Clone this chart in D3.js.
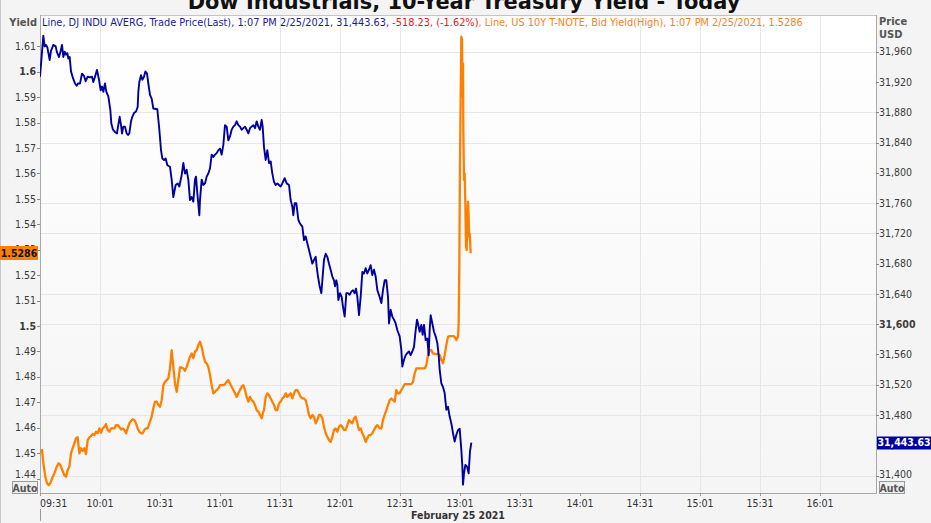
<!DOCTYPE html>
<html><head><meta charset="utf-8">
<script src="https://cdn.jsdelivr.net/npm/d3@7"></script>
<style>
html,body{margin:0;padding:0;background:#f4f4f4;overflow:hidden;}
svg{display:block;}
</style></head><body>
<script>
const titleText = "Dow Industrials, 10-Year Treasury Yield - Today";
const legendParts = ["Line, DJ INDU AVERG, Trade Price(Last), 1:07 PM 2/25/2021, 31,443.63, ", "-518.23, (-1.62%)", ", Line, US 10Y T-NOTE, Bid Yield(High), 1:07 PM 2/25/2021, 1.5286"];
const dateLabel = "February 25 2021";
const leftAxisTitle = "Yield";
const rightAxisTitle = ["Price", "USD"];
const lastYieldLabel = "1.5286";
const lastPriceLabel = "31,443.63";

const dowTimes = ["09:31:00","09:32:40","09:33:20","09:34:00","09:34:40","09:35:50","09:36:30","09:37:40","09:38:50","09:39:30","09:40:30","09:41:20","09:42:00","09:42:40","09:43:20","09:44:00","09:44:40","09:45:10","09:45:50","09:46:30","09:47:30","09:48:30","09:49:20","09:50:00","09:51:00","09:52:00","09:53:00","09:53:50","09:54:50","09:56:00","09:57:00","09:57:40","09:58:30","09:59:30","10:00:30","10:01:20","10:02:00","10:02:40","10:03:30","10:04:10","10:05:10","10:06:10","10:06:40","10:07:30","10:08:30","10:09:30","10:10:00","10:10:50","10:11:30","10:12:00","10:12:40","10:13:30","10:14:20","10:15:00","10:15:40","10:16:30","10:17:10","10:18:00","10:19:00","10:19:50","10:20:10","10:20:40","10:21:30","10:22:10","10:23:00","10:23:40","10:24:30","10:25:10","10:26:00","10:26:50","10:27:40","10:29:40","10:30:40","10:31:30","10:32:10","10:33:00","10:33:50","10:34:40","10:36:00","10:36:50","10:37:40","10:38:50","10:39:50","10:40:40","10:41:50","10:42:40","10:43:30","10:44:20","10:45:10","10:46:00","10:46:50","10:47:40","10:48:30","10:49:00","10:49:40","10:50:40","10:51:00","10:51:50","10:52:40","10:53:30","10:54:20","10:55:10","10:56:00","10:56:50","10:57:40","10:58:30","10:59:20","11:00:10","11:01:00","11:01:50","11:02:40","11:03:30","11:04:20","11:05:10","11:06:00","11:06:50","11:07:40","11:08:30","11:09:20","11:10:10","11:11:00","11:11:50","11:12:40","11:13:30","11:14:20","11:15:10","11:16:00","11:16:50","11:17:40","11:18:30","11:19:20","11:20:10","11:21:00","11:21:50","11:22:20","11:23:00","11:23:50","11:24:40","11:25:30","11:26:20","11:27:10","11:28:00","11:28:50","11:29:40","11:30:30","11:31:20","11:32:10","11:33:20","11:34:20","11:35:30","11:36:20","11:37:10","11:37:40","11:38:20","11:39:10","11:40:10","11:41:00","11:42:10","11:43:00","11:43:50","11:44:40","11:45:30","11:46:20","11:47:10","11:48:00","11:48:50","11:49:20","11:50:00","11:50:50","11:51:40","11:52:20","11:53:00","11:53:50","11:54:40","11:55:30","11:56:20","11:57:10","11:58:00","11:58:30","11:59:10","11:59:40","12:00:10","12:01:00","12:01:50","12:02:30","12:03:20","12:04:10","12:05:00","12:05:50","12:06:40","12:07:30","12:08:20","12:09:00","12:09:40","12:10:30","12:11:20","12:12:10","12:13:00","12:13:50","12:14:40","12:15:30","12:16:20","12:17:10","12:18:00","12:18:50","12:19:40","12:20:50","12:21:40","12:22:30","12:23:20","12:24:10","12:25:00","12:25:30","12:26:20","12:27:10","12:28:00","12:28:50","12:29:40","12:30:50","12:31:40","12:32:10","12:33:00","12:33:50","12:34:40","12:35:30","12:36:20","12:37:10","12:38:00","12:38:50","12:39:30","12:40:00","12:40:50","12:41:40","12:42:20","12:43:00","12:43:50","12:44:40","12:45:20","12:45:50","12:46:20","12:47:10","12:48:00","12:48:50","12:49:40","12:50:20","12:50:50","12:51:40","12:52:30","12:53:20","12:54:10","12:55:00","12:55:50","12:56:40","12:57:30","12:58:20","12:59:10","13:00:00","13:00:50","13:01:40","13:02:10","13:02:30","13:03:00","13:03:40","13:04:30","13:05:20","13:06:00","13:06:40"];
const dowValues = [31927,31981,31967,31969,31966,31949,31961,31969,31967,31959,31953,31961,31969,31953,31960,31956,31958,31951,31953,31934,31925,31918,31915,31918,31918,31931,31928,31921,31927,31926,31927,31920,31927,31936,31923,31909,31914,31907,31918,31907,31901,31883,31865,31857,31854,31852,31861,31874,31863,31852,31861,31861,31852,31850,31852,31868,31874,31879,31881,31887,31907,31920,31929,31923,31927,31934,31931,31918,31903,31898,31885,31884,31857,31830,31819,31817,31819,31810,31808,31791,31768,31784,31786,31782,31797,31813,31799,31804,31791,31764,31768,31762,31791,31795,31773,31744,31764,31791,31784,31786,31795,31799,31806,31824,31821,31824,31826,31830,31832,31824,31837,31863,31861,31843,31848,31857,31861,31863,31868,31863,31861,31857,31859,31861,31857,31852,31859,31861,31863,31859,31868,31861,31857,31870,31861,31834,31817,31830,31813,31815,31799,31788,31784,31786,31784,31782,31786,31793,31786,31784,31764,31755,31744,31760,31760,31738,31733,31729,31711,31716,31707,31698,31689,31680,31685,31689,31676,31663,31650,31641,31663,31685,31693,31689,31680,31672,31663,31658,31650,31658,31652,31632,31641,31636,31623,31610,31641,31641,31639,31643,31645,31641,31647,31636,31612,31636,31669,31667,31674,31667,31672,31678,31665,31672,31663,31645,31636,31628,31645,31658,31658,31636,31601,31619,31610,31606,31601,31592,31584,31566,31544,31553,31559,31562,31564,31559,31564,31570,31592,31606,31601,31590,31599,31586,31599,31579,31581,31559,31592,31612,31601,31590,31584,31575,31559,31540,31522,31517,31509,31487,31491,31478,31469,31456,31445,31454,31460,31462,31434,31412,31388,31403,31414,31412,31403,31432,31443.63];

const yieldTimes = ["09:31:00","09:31:30","09:32:00","09:32:40","09:33:40","09:34:30","09:35:20","09:36:10","09:37:00","09:38:10","09:39:20","09:40:20","09:41:10","09:42:00","09:43:10","09:44:00","09:44:50","09:45:40","09:46:30","09:47:20","09:48:10","09:49:00","09:49:50","09:50:40","09:51:30","09:52:20","09:53:10","09:54:00","09:54:50","09:55:40","09:56:30","09:57:20","09:58:10","09:59:00","09:59:50","10:00:40","10:01:30","10:02:20","10:03:10","10:04:00","10:04:50","10:05:40","10:06:30","10:08:10","10:09:00","10:09:50","10:10:40","10:11:30","10:12:20","10:13:10","10:14:00","10:14:50","10:15:40","10:16:30","10:17:20","10:18:10","10:19:00","10:19:50","10:20:40","10:21:30","10:22:20","10:23:10","10:24:00","10:24:50","10:25:40","10:26:50","10:27:40","10:28:30","10:29:20","10:30:10","10:31:00","10:31:50","10:32:40","10:33:30","10:34:20","10:35:10","10:36:00","10:36:50","10:37:40","10:38:30","10:39:20","10:40:10","10:41:00","10:41:50","10:42:40","10:43:30","10:44:20","10:45:10","10:46:00","10:46:50","10:47:40","10:48:30","10:49:20","10:50:10","10:51:00","10:51:50","10:52:40","10:53:30","10:54:20","10:55:10","10:56:00","10:56:50","10:57:40","10:58:30","10:59:20","11:00:10","11:01:00","11:02:40","11:03:30","11:04:20","11:05:10","11:06:00","11:06:50","11:07:40","11:08:30","11:09:20","11:10:10","11:11:00","11:11:50","11:12:40","11:13:30","11:14:20","11:15:10","11:16:00","11:16:50","11:17:40","11:18:30","11:19:20","11:20:10","11:21:00","11:21:50","11:22:40","11:23:00","11:23:50","11:24:40","11:25:30","11:26:20","11:27:10","11:28:00","11:28:50","11:29:40","11:30:30","11:31:20","11:32:10","11:33:00","11:33:50","11:34:40","11:35:30","11:36:20","11:37:10","11:38:00","11:38:50","11:39:40","11:40:30","11:41:20","11:42:10","11:43:00","11:43:50","11:44:40","11:45:30","11:46:20","11:47:10","11:48:00","11:48:50","11:49:40","11:50:30","11:51:20","11:52:10","11:53:00","11:53:50","11:54:40","11:55:30","11:56:20","11:57:10","11:58:00","11:58:50","11:59:40","12:00:30","12:01:20","12:02:10","12:03:00","12:03:50","12:04:40","12:05:30","12:06:20","12:07:10","12:08:00","12:08:50","12:09:40","12:10:30","12:11:20","12:12:10","12:13:00","12:13:50","12:14:40","12:15:30","12:16:20","12:17:10","12:18:00","12:18:50","12:19:40","12:20:50","12:21:40","12:22:30","12:23:20","12:24:10","12:25:00","12:25:50","12:26:40","12:27:30","12:28:20","12:29:10","12:30:00","12:30:50","12:31:40","12:32:30","12:33:20","12:36:40","12:37:30","12:38:20","12:39:10","12:43:20","12:44:10","12:45:00","12:45:50","12:46:40","12:47:30","12:49:10","12:50:00","12:50:50","12:51:40","12:52:30","12:53:20","12:54:10","12:55:00","12:55:50","12:57:30","12:58:20","12:59:10","13:00:00","13:00:20","13:00:40","13:01:00","13:01:20","13:01:40","13:02:00","13:02:10","13:02:30","13:02:40","13:03:00","13:03:20","13:03:40","13:04:00","13:04:20","13:04:40","13:05:00","13:05:20","13:05:30","13:05:50","13:06:20"];
const yieldValues = [1.4505,1.4505,1.4512,1.4460,1.4407,1.4381,1.4374,1.4381,1.4400,1.4420,1.4446,1.4460,1.4453,1.4436,1.4413,1.4407,1.4433,1.4446,1.4499,1.4519,1.4538,1.4558,1.4562,1.4499,1.4519,1.4509,1.4519,1.4496,1.4551,1.4562,1.4567,1.4575,1.4571,1.4584,1.4578,1.4597,1.4580,1.4597,1.4603,1.4614,1.4591,1.4584,1.4597,1.4597,1.4610,1.4610,1.4603,1.4593,1.4597,1.4591,1.4578,1.4597,1.4617,1.4627,1.4633,1.4630,1.4617,1.4597,1.4584,1.4578,1.4578,1.4591,1.4597,1.4597,1.4617,1.4643,1.4676,1.4702,1.4702,1.4689,1.4682,1.4708,1.4767,1.4780,1.4787,1.4794,1.4833,1.4905,1.4839,1.4774,1.4741,1.4787,1.4837,1.4837,1.4833,1.4824,1.4839,1.4859,1.4879,1.4892,1.4873,1.4899,1.4905,1.4925,1.4938,1.4918,1.4886,1.4859,1.4853,1.4839,1.4807,1.4767,1.4735,1.4741,1.4748,1.4754,1.4767,1.4767,1.4771,1.4780,1.4787,1.4774,1.4761,1.4748,1.4735,1.4721,1.4735,1.4748,1.4761,1.4767,1.4748,1.4721,1.4702,1.4721,1.4708,1.4702,1.4689,1.4669,1.4663,1.4650,1.4637,1.4663,1.4669,1.4721,1.4735,1.4728,1.4715,1.4702,1.4689,1.4669,1.4669,1.4696,1.4702,1.4715,1.4721,1.4735,1.4721,1.4728,1.4735,1.4715,1.4735,1.4748,1.4748,1.4735,1.4721,1.4715,1.4715,1.4708,1.4682,1.4650,1.4637,1.4650,1.4643,1.4617,1.4630,1.4650,1.4650,1.4637,1.4603,1.4578,1.4564,1.4551,1.4544,1.4564,1.4591,1.4597,1.4584,1.4603,1.4610,1.4603,1.4591,1.4591,1.4610,1.4630,1.4623,1.4617,1.4637,1.4643,1.4617,1.4591,1.4597,1.4578,1.4564,1.4544,1.4558,1.4571,1.4571,1.4578,1.4591,1.4603,1.4610,1.4597,1.4597,1.4630,1.4650,1.4669,1.4689,1.4708,1.4715,1.4708,1.4702,1.4748,1.4735,1.4735,1.4748,1.4759,1.4771,1.4771,1.4780,1.4813,1.4833,1.4833,1.4846,1.4886,1.4905,1.4905,1.4892,1.4889,1.4889,1.4886,1.4866,1.4853,1.4886,1.4925,1.4957,1.4960,1.4960,1.4957,1.4945,1.4957,1.5010,1.5246,1.5640,1.5902,1.6138,1.6125,1.5902,1.6033,1.5771,1.5574,1.5600,1.5482,1.5312,1.5299,1.5404,1.5489,1.5430,1.5351,1.5364,1.5286];

const timeTickLabels = ["09:31","10:01","10:31","11:01","11:31","12:01","12:31","13:01","13:31","14:01","14:31","15:01","15:31","16:01"];
const gridTimeLabels = ["10:01","11:31","12:01","12:31","14:31","15:01","15:31","16:01"];
const timeDomain = ["09:31:00","16:29:00"];
const yieldTicks = [1.44,1.45,1.46,1.47,1.48,1.49,1.5,1.51,1.52,1.53,1.54,1.55,1.56,1.57,1.58,1.59,1.6,1.61];
const yieldBoldTicks = [1.5,1.6];
const yieldDomain = [1.4343,1.6223];
const priceTicks = [31400,31440,31480,31520,31560,31600,31640,31680,31720,31760,31800,31840,31880,31920,31960];
const priceBoldTicks = [31600];
const priceGridValues = [31400,31480,31520,31600,31640,31720,31760,31840,31880,31960];
const priceDomain = [31377,32008.5];

// ---------- drawing ----------
const W = 931, H = 523;
const P = {l: 40, r: 876, t: 15, b: 493};
const FONT = "'DejaVu Sans Condensed','Liberation Sans',sans-serif";
const BOLDFONT = "'DejaVu Sans','Liberation Sans',sans-serif";
const parseT = d3.timeParse("%H:%M:%S");

const svg = d3.select("body").append("svg").attr("width", W).attr("height", H)
  .style("font-family", FONT);

const defs = svg.append("defs");
const grad = defs.append("linearGradient").attr("id","bg").attr("x1",0).attr("y1",0).attr("x2",0).attr("y2",1);
grad.append("stop").attr("offset","0%").attr("stop-color","#ffffff");
grad.append("stop").attr("offset","100%").attr("stop-color","#f5f5f5");
defs.append("clipPath").attr("id","clip").append("rect")
  .attr("x",P.l).attr("y",P.t).attr("width",P.r-P.l).attr("height",P.b-P.t);

svg.append("rect").attr("width",W).attr("height",H).attr("fill","#f4f4f4");
svg.append("line").attr("x1",0.5).attr("x2",0.5).attr("y1",0).attr("y2",H).attr("stroke","#c8c8c8");

const x = d3.scaleTime().domain(timeDomain.map(parseT)).range([P.l, P.r]);
const yL = d3.scaleLinear().domain(yieldDomain).range([P.b, P.t]);
const yR = d3.scaleLinear().domain(priceDomain).range([P.b, P.t]);
const tx = d => x(parseT(d + ":00"));

// plot background
svg.append("rect").attr("x",P.l).attr("y",P.t).attr("width",P.r-P.l).attr("height",P.b-P.t)
  .attr("fill","url(#bg)");

// grid
const grid = svg.append("g").attr("shape-rendering","crispEdges");
grid.selectAll("line.h").data(priceGridValues).enter().append("line")
  .attr("x1",P.l).attr("x2",P.r)
  .attr("y1",d=>Math.round(yR(d))+0.5).attr("y2",d=>Math.round(yR(d))+0.5)
  .attr("stroke","#e6e6e6");
grid.selectAll("line.v").data(gridTimeLabels).enter().append("line")
  .attr("y1",P.t).attr("y2",P.b)
  .attr("x1",d=>Math.round(tx(d))+0.5).attr("x2",d=>Math.round(tx(d))+0.5)
  .attr("stroke","#e6e6e6");

// frame
svg.append("rect").attr("x",P.l+0.5).attr("y",P.t+0.5).attr("width",P.r-P.l).attr("height",P.b-P.t)
  .attr("fill","none").attr("stroke","#c4c4c4");
svg.append("line").attr("x1",P.l+0.5).attr("x2",P.l+0.5).attr("y1",P.t).attr("y2",P.b+1).attr("stroke","#a8a8a8");
svg.append("line").attr("x1",P.r+0.5).attr("x2",P.r+0.5).attr("y1",P.t).attr("y2",P.b+1).attr("stroke","#a8a8a8");
svg.append("line").attr("x1",P.l).attr("x2",P.r+1).attr("y1",P.b+0.5).attr("y2",P.b+0.5).attr("stroke","#a8a8a8");

// lines
const gLines = svg.append("g").attr("clip-path","url(#clip)");
const yieldData = yieldTimes.map((t,i)=>({t:parseT(t), v:yieldValues[i]}));
const dowData = dowTimes.map((t,i)=>({t:parseT(t), v:dowValues[i]}));
gLines.append("path").datum(yieldData)
  .attr("d", d3.line().x(d=>x(d.t)).y(d=>yL(d.v)))
  .attr("fill","none").attr("stroke","#ff8000").attr("stroke-width",2.3).attr("stroke-linejoin","round");
gLines.append("path").datum(dowData)
  .attr("d", d3.line().x(d=>x(d.t)).y(d=>yR(d.v)))
  .attr("fill","none").attr("stroke","#0000a0").attr("stroke-width",1.9).attr("stroke-linejoin","round");

// left axis
const axL = svg.append("g");
axL.selectAll("line").data(yieldTicks).enter().append("line")
  .attr("x1",P.l-3).attr("x2",P.l).attr("y1",d=>Math.round(yL(d))+0.5).attr("y2",d=>Math.round(yL(d))+0.5)
  .attr("stroke","#888");
axL.selectAll("text").data(yieldTicks).enter().append("text")
  .attr("x",P.l-4).attr("y",d=>Math.min(yL(d), 474)).attr("dy","0.35em").attr("text-anchor","end")
  .attr("font-size",10.5).attr("fill","#3a3a3a")
  .attr("font-weight",d=>yieldBoldTicks.includes(d)?"bold":"normal")
  .text(d=>yieldBoldTicks.includes(d) ? String(d) : d3.format(".2f")(d));

// right axis
const axR = svg.append("g");
axR.selectAll("line").data(priceTicks).enter().append("line")
  .attr("x1",P.r).attr("x2",P.r+3).attr("y1",d=>Math.round(yR(d))+0.5).attr("y2",d=>Math.round(yR(d))+0.5)
  .attr("stroke","#888");
axR.selectAll("text").data(priceTicks).enter().append("text")
  .attr("x",P.r+3).attr("y",d=>Math.min(yR(d), 474)).attr("dy","0.35em").attr("text-anchor","start")
  .attr("font-size",10.5).attr("fill","#3a3a3a")
  .attr("font-weight",d=>priceBoldTicks.includes(d)?"bold":"normal")
  .text(d=>d3.format(",")(d));

// bottom axis
const axB = svg.append("g");
axB.selectAll("line").data(timeTickLabels).enter().append("line")
  .attr("x1",d=>Math.round(tx(d))+0.5).attr("x2",d=>Math.round(tx(d))+0.5)
  .attr("y1",P.b).attr("y2",P.b+3).attr("stroke","#999");
axB.selectAll("text").data(timeTickLabels).enter().append("text")
  .attr("x",(d,i)=> i===0 ? P.l : tx(d))
  .attr("y",507).attr("text-anchor",(d,i)=>i===0?"start":"middle")
  .attr("font-size",10.5).attr("fill","#333").text(d=>d);
svg.append("line").attr("x1",P.l+0.5).attr("x2",P.l+0.5).attr("y1",509).attr("y2",521).attr("stroke","#999");
svg.append("text").attr("x",458).attr("y",519).attr("text-anchor","middle")
  .attr("font-size",10.5).attr("font-weight","bold").attr("fill","#333").text(dateLabel);

// axis titles
svg.append("text").attr("x",37).attr("y",26).attr("text-anchor","end")
  .attr("font-size",11).attr("font-weight","bold").attr("fill","#555").text(leftAxisTitle);
svg.append("text").attr("x",879).attr("y",25)
  .attr("font-size",11).attr("font-weight","bold").attr("fill","#555").text(rightAxisTitle[0]);
svg.append("text").attr("x",879).attr("y",38)
  .attr("font-size",11).attr("font-weight","bold").attr("fill","#555").text(rightAxisTitle[1]);

// legend
const legColors = ["#1a1a9c","#f01414","#f7821a"];
const leg = svg.append("text").attr("x",42).attr("y",26).attr("font-size",11);
legendParts.forEach((p,i)=>leg.append("tspan").attr("fill",legColors[i]).text(p));
(function fit(){ const L = leg.node().getComputedTextLength(); leg.attr("font-size", 11*762/L); })();

// title
const title = svg.append("text").attr("x",464).attr("y",8.5).attr("text-anchor","middle")
  .style("font-family",BOLDFONT).attr("font-weight","bold").attr("font-size",22).attr("fill","#111").text(titleText);
(function fit(){ const L = title.node().getComputedTextLength(); title.attr("font-size", 22*553/L); })();

// last value badges
const yLast = yL(yieldValues[yieldValues.length-1]);
svg.append("rect").attr("x",0).attr("y",Math.round(yLast)-7).attr("width",38).attr("height",14).attr("fill","#ff8000");
svg.append("text").attr("x",19).attr("y",yLast).attr("dy","0.36em").attr("text-anchor","middle")
  .attr("font-size",10.5).attr("font-weight","bold").attr("fill","#111").text(lastYieldLabel);
const pLast = yR(dowValues[dowValues.length-1]);
svg.append("rect").attr("x",P.r+1).attr("y",Math.round(pLast)-6.5).attr("width",54).attr("height",13).attr("fill","#0000a0");
svg.append("text").attr("x",P.r+28).attr("y",pLast).attr("dy","0.36em").attr("text-anchor","middle")
  .attr("font-size",10.5).attr("font-weight","bold").attr("fill","#fff").text(lastPriceLabel);

// Auto buttons
[[12,481],[879,481]].forEach(([bx,by])=>{
  svg.append("rect").attr("x",bx+0.5).attr("y",by+0.5).attr("width",25).attr("height",12)
    .attr("fill","#efefef").attr("stroke","#9a9a9a");
  svg.append("text").attr("x",bx+13).attr("y",by+10.5).attr("text-anchor","middle")
    .attr("font-size",10.5).attr("font-weight","bold").attr("fill","#555").text("Auto");
});
</script>
</body></html>
